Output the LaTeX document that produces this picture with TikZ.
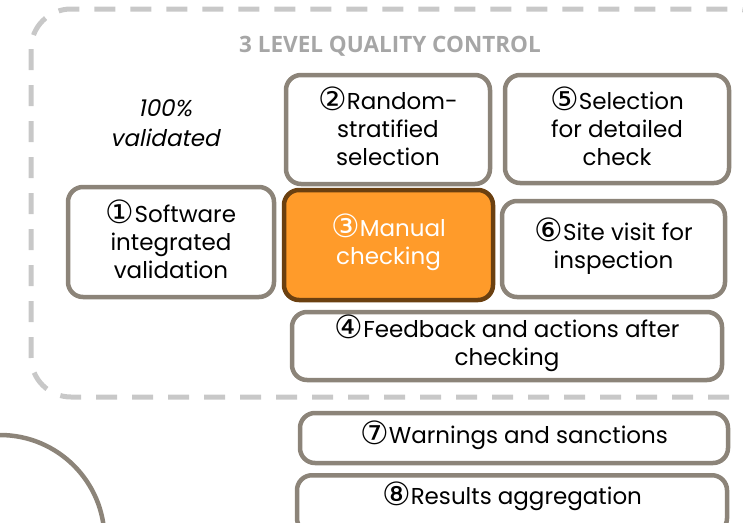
\documentclass[tikz,border=0pt]{standalone}
\usepackage{fontspec}
\setmainfont{Poppins}[AutoFakeSlant=0.2]
\newfontfamily\titlefont{Open Sans}
\newfontfamily\cdig{DejaVu Sans}
\newcommand{\cn}[1]{\smash{\cdig\fontsize{32}{28}\selectfont\raisebox{-1pt}{#1}}}
\definecolor{frame}{HTML}{C8C8C8}
\definecolor{boxline}{HTML}{8C8479}
\definecolor{titlegray}{HTML}{A6A6A6}
\definecolor{hotfill}{HTML}{FF9B2A}
\definecolor{hotline}{HTML}{6B4010}
\begin{document}
\begin{tikzpicture}[x=1pt,y=-1pt,
  stepbox/.style={draw=boxline, line width=4.5pt, rounded corners=15pt, fill=white,
    align=center, font=\fontsize{23}{28}\selectfont, inner sep=0pt},
  hotbox/.style={stepbox, draw=hotline, fill=hotfill, text=white},
  zone/.style={draw=frame, line width=5pt, dash pattern=on 21pt off 15pt, rounded corners=40pt}]
\useasboundingbox (0,0) rectangle (743,522);
\clip (0,0) rectangle (743,522);

% outer dashed zone of the three-level control
\draw[zone] (31,9) rectangle (775,397);
\node[font=\titlefont\bfseries\fontsize{22.5}{24}\selectfont, text=titlegray] (title) at (390,46) {3 LEVEL QUALITY CONTROL};
\node[font=\itshape\fontsize{23}{30}\selectfont, align=center] (full) at (165,123) {100\%\\validated};

% steps
\node[stepbox, minimum width=204pt, minimum height=109pt] (s2) at (388,129.5) {\cn{②}Random-\\stratified\\selection};
\node[stepbox, minimum width=224pt, minimum height=108pt] (s5) at (617,129) {\cn{⑤}Selection\\for detailed\\check};
\node[stepbox, minimum width=206pt, minimum height=110pt] (s1) at (171,242) {\cn{①}Software\\integrated\\validation};
\node[hotbox, minimum width=209pt, minimum height=110pt] (s3) at (388.5,245) {\cn{③}Manual\\checking};
\node[stepbox, minimum width=223pt, minimum height=96pt] (s6) at (613.5,249) {\cn{⑥}Site visit for\\inspection};
\node[stepbox, minimum width=430pt, minimum height=68pt] (s4) at (507,346) {\cn{④}Feedback and actions after\\checking};
\node[stepbox, minimum width=428pt, minimum height=50pt] (s7) at (514,438) {\cn{⑦}Warnings and sanctions};
\node[stepbox, minimum width=430pt, minimum height=58pt, anchor=north] (s8) at (512,473) {};
\node[font=\fontsize{23}{28}\selectfont] (s8t) at (512,499) {\cn{⑧}Results aggregation};

% partial circle at the lower left
\draw[boxline, line width=4.5pt] (0,539.5) circle[radius=104.5pt];
\end{tikzpicture}
\end{document}
